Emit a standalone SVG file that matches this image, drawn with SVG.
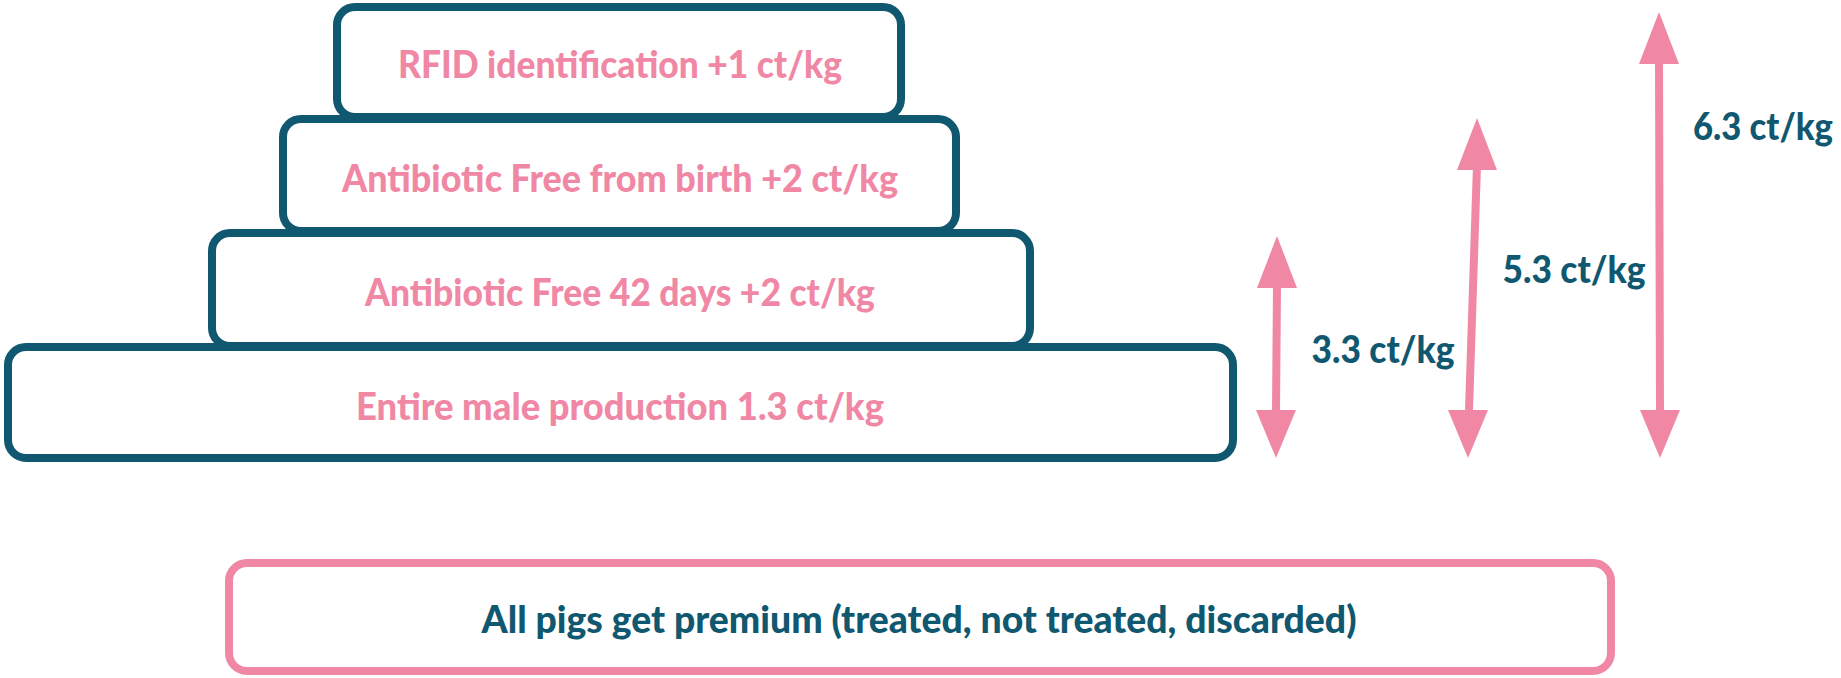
<svg xmlns="http://www.w3.org/2000/svg" width="1841" height="678" viewBox="0 0 1841 678">
<style>
.box{fill:#ffffff;stroke:#10586f;stroke-width:8}
.pbox{fill:#ffffff;stroke:#f088a5;stroke-width:8}
.t{font-family:"Lato","Liberation Sans",sans-serif;font-weight:900;font-size:37px;text-anchor:middle}
.pink{fill:#f088a5}
.teal{fill:#10586f}
.shaft{stroke:#f088a5;stroke-width:8;fill:none}
.head{fill:#f088a5}
</style>
<g id="node-entire-male">
<rect class="box" x="8" y="347" width="1225" height="111" rx="18"/>
<text class="t pink" x="620" y="420" textLength="528" lengthAdjust="spacingAndGlyphs">Entire male production 1.3 ct/kg</text>
</g>
<g id="node-af42">
<rect class="box" x="212" y="233" width="818" height="113" rx="18"/>
<text class="t pink" x="620" y="306" textLength="510" lengthAdjust="spacingAndGlyphs">Antibiotic Free 42 days +2 ct/kg</text>
</g>
<g id="node-afbirth">
<rect class="box" x="283" y="119" width="673" height="112" rx="18"/>
<text class="t pink" x="620" y="192" textLength="556" lengthAdjust="spacingAndGlyphs">Antibiotic Free from birth +2 ct/kg</text>
</g>
<g id="node-rfid">
<rect class="box" x="337" y="7" width="564" height="110" rx="18"/>
<text class="t pink" x="620" y="78" textLength="444" lengthAdjust="spacingAndGlyphs">RFID identification +1 ct/kg</text>
</g>
<g id="node-all-pigs">
<rect class="pbox" x="229" y="563" width="1382" height="108" rx="18"/>
<text class="t teal" x="919" y="633" textLength="875" lengthAdjust="spacingAndGlyphs">All pigs get premium (treated, not treated, discarded)</text>
</g>
<g id="connectors">
<line class="shaft" x1="1277" y1="285" x2="1276" y2="410"/>
<polygon class="head" points="1277,236 1297,288 1257,288"/>
<polygon class="head" points="1276,458 1296,410 1256,410"/>
<line class="shaft" x1="1477" y1="165" x2="1469" y2="410"/>
<polygon class="head" points="1477,118 1497,170 1457,170"/>
<polygon class="head" points="1468,458 1488,410 1448,410"/>
<line class="shaft" x1="1659" y1="60" x2="1660" y2="410"/>
<polygon class="head" points="1659,12 1679,64 1639,64"/>
<polygon class="head" points="1660,458 1680,410 1640,410"/>
</g>
<g id="labels">
<text class="t teal" x="1383" y="363" textLength="143" lengthAdjust="spacingAndGlyphs">3.3 ct/kg</text>
<text class="t teal" x="1574" y="283" textLength="143" lengthAdjust="spacingAndGlyphs">5.3 ct/kg</text>
<text class="t teal" x="1763" y="140" textLength="140" lengthAdjust="spacingAndGlyphs">6.3 ct/kg</text>
</g>
</svg>
